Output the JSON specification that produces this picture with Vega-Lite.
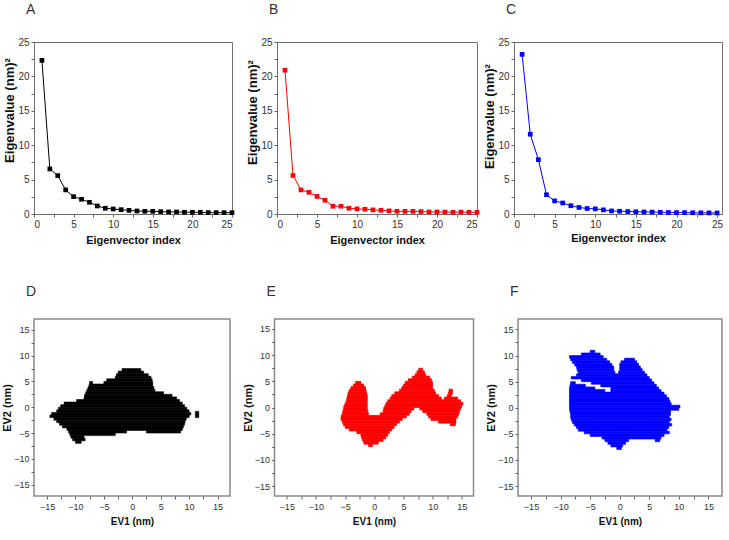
{
  "$schema": "https://vega.github.io/schema/vega-lite/v6.json",
  "padding": {"left": 0, "top": 2, "right": 2, "bottom": 2},
  "background": "white",
  "spacing": 38,
  "config": {
    "font": "Liberation Sans",
    "view": {"stroke": "#6e6e6e", "strokeWidth": 1},
    "axis": {
      "labelFont": "Liberation Sans", "labelFontSize": 10, "labelColor": "#333333",
      "titleFont": "Liberation Sans", "titleFontWeight": "bold", "titleColor": "#111111",
      "tickColor": "#666666", "tickSize": 3, "domain": false, "grid": false,
      "labelPadding": 2, "labelOverlap": false
    },
    "axisX": {"titleFontSize": 11, "titlePadding": 5},
    "axisY": {"titleFontSize": 13, "titlePadding": 1},
    "title": {"font": "Liberation Sans", "fontSize": 14, "fontWeight": "normal", "color": "#333333", "anchor": "start", "frame": "group", "dx": -8, "offset": 20}
  },
  "vconcat": [
    {
      "spacing": 11,
      "hconcat": [
        {
          "width": 198, "height": 172,
          "title": {"text": "A"},
          "data": {"values": [
            {"i":1,"v":22.33},{"i":2,"v":6.55},{"i":3,"v":5.58},{"i":4,"v":3.5},{"i":5,"v":2.52},
            {"i":6,"v":2.14},{"i":7,"v":1.7},{"i":8,"v":1.17},{"i":9,"v":0.83},{"i":10,"v":0.73},
            {"i":11,"v":0.63},{"i":12,"v":0.53},{"i":13,"v":0.44},{"i":14,"v":0.39},{"i":15,"v":0.39},
            {"i":16,"v":0.34},{"i":17,"v":0.3},{"i":18,"v":0.3},{"i":19,"v":0.25},{"i":20,"v":0.25},
            {"i":21,"v":0.24},{"i":22,"v":0.2},{"i":23,"v":0.2},{"i":24,"v":0.2},{"i":25,"v":0.19}
          ]},
          "encoding": {
            "x": {"field": "i", "type": "quantitative", "scale": {"domain": [0, 25], "nice": false},
                  "axis": {"title": "Eigenvector index", "values": [0,2.5,5,7.5,10,12.5,15,17.5,20,22.5,25], "labelExpr": "datum.value % 5 == 0 ? datum.label : ''"}},
            "y": {"field": "v", "type": "quantitative", "scale": {"domain": [0, 25], "nice": false},
                  "axis": {"title": "Eigenvalue (nm)²", "titleY": 68, "values": [0,2.5,5,7.5,10,12.5,15,17.5,20,22.5,25], "labelExpr": "datum.value % 5 == 0 ? datum.label : ''"}}
          },
          "layer": [
            {"mark": {"type": "line", "color": "#000000", "strokeWidth": 1}},
            {"mark": {"type": "square", "color": "#000000", "size": 22, "opacity": 1}}
          ]
        },
        {
          "bounds": "flush",
          "spacing": 37,
          "hconcat": [
            {
              "width": 200, "height": 172,
              "title": {"text": "B"},
              "data": {"values": [
                {"i":1,"v":20.9},{"i":2,"v":5.6},{"i":3,"v":3.5},{"i":4,"v":3.15},{"i":5,"v":2.56},
                {"i":6,"v":2.0},{"i":7,"v":1.13},{"i":8,"v":1.13},{"i":9,"v":0.84},{"i":10,"v":0.74},
                {"i":11,"v":0.69},{"i":12,"v":0.6},{"i":13,"v":0.54},{"i":14,"v":0.45},{"i":15,"v":0.4},
                {"i":16,"v":0.38},{"i":17,"v":0.38},{"i":18,"v":0.35},{"i":19,"v":0.3},{"i":20,"v":0.3},
                {"i":21,"v":0.28},{"i":22,"v":0.25},{"i":23,"v":0.28},{"i":24,"v":0.25},{"i":25,"v":0.25}
              ]},
              "encoding": {
                "x": {"field": "i", "type": "quantitative", "scale": {"domain": [0, 25], "nice": false},
                      "axis": {"title": "Eigenvector index", "titlePadding": 5, "values": [0,2.5,5,7.5,10,12.5,15,17.5,20,22.5,25], "labelExpr": "datum.value % 5 == 0 ? datum.label : ''"}},
                "y": {"field": "v", "type": "quantitative", "scale": {"domain": [0, 25], "nice": false},
                      "axis": {"title": "Eigenvalue (nm)²", "titleY": 70, "values": [0,2.5,5,7.5,10,12.5,15,17.5,20,22.5,25], "labelExpr": "datum.value % 5 == 0 ? datum.label : ''"}}
              },
              "layer": [
                {"mark": {"type": "line", "color": "#ff0000", "strokeWidth": 1}},
                {"mark": {"type": "square", "color": "#ff0000", "size": 22, "opacity": 1}}
              ]
            },
            {
              "width": 208, "height": 172,
              "title": {"text": "C"},
              "data": {"values": [
                {"i":1,"v":23.2},{"i":2,"v":11.6},{"i":3,"v":7.9},{"i":4,"v":2.8},{"i":5,"v":1.9},
                {"i":6,"v":1.6},{"i":7,"v":1.2},{"i":8,"v":0.95},{"i":9,"v":0.8},{"i":10,"v":0.75},
                {"i":11,"v":0.6},{"i":12,"v":0.45},{"i":13,"v":0.4},{"i":14,"v":0.35},{"i":15,"v":0.33},
                {"i":16,"v":0.3},{"i":17,"v":0.28},{"i":18,"v":0.25},{"i":19,"v":0.22},{"i":20,"v":0.2},
                {"i":21,"v":0.2},{"i":22,"v":0.18},{"i":23,"v":0.17},{"i":24,"v":0.16},{"i":25,"v":0.15}
              ]},
              "encoding": {
                "x": {"field": "i", "type": "quantitative", "scale": {"domain": [0, 25.6], "nice": false},
                      "axis": {"title": "Eigenvector index", "titlePadding": 3, "values": [0,2.5,5,7.5,10,12.5,15,17.5,20,22.5,25], "labelExpr": "datum.value % 5 == 0 ? datum.label : ''"}},
                "y": {"field": "v", "type": "quantitative", "scale": {"domain": [0, 25], "nice": false},
                      "axis": {"title": "Eigenvalue (nm)²", "titleY": 74, "values": [0,2.5,5,7.5,10,12.5,15,17.5,20,22.5,25], "labelExpr": "datum.value % 5 == 0 ? datum.label : ''"}}
              },
              "layer": [
                {"mark": {"type": "line", "color": "#0000ff", "strokeWidth": 1}},
                {"mark": {"type": "square", "color": "#0000ff", "size": 22, "opacity": 1}}
              ]
            }
          ]
        }
      ]
    },
    {
      "bounds": "flush",
      "spacing": 44.5,
      "hconcat": [
        {
          "width": 196, "height": 177,
          "title": {"text": "D", "offset": 20},
          "view": {"stroke": "#8a8a8a", "strokeWidth": 1.5},
          "data": {"values": [
            {"y1":7.0,"y2":7.5,"x1":-1.8,"x2":1.5},
            {"y1":6.5,"y2":7.0,"x1":-2.5,"x2":2.0},
            {"y1":6.0,"y2":6.5,"x1":-2.8,"x2":2.8},
            {"y1":5.5,"y2":6.0,"x1":-3.0,"x2":3.3},
            {"y1":5.0,"y2":5.5,"x1":-4.5,"x2":3.5},
            {"y1":4.5,"y2":5.0,"x1":-7.5,"x2":-7.0},
            {"y1":4.5,"y2":5.0,"x1":-5.0,"x2":3.6},
            {"y1":4.0,"y2":4.5,"x1":-7.6,"x2":3.6},
            {"y1":3.5,"y2":4.0,"x1":-7.8,"x2":3.8},
            {"y1":3.0,"y2":3.5,"x1":-8.0,"x2":4.0},
            {"y1":2.5,"y2":3.0,"x1":-8.2,"x2":5.5},
            {"y1":2.0,"y2":2.5,"x1":-8.4,"x2":7.0},
            {"y1":1.5,"y2":2.0,"x1":-8.5,"x2":7.8},
            {"y1":1.0,"y2":1.5,"x1":-9.8,"x2":8.3},
            {"y1":0.5,"y2":1.0,"x1":-12.0,"x2":8.8},
            {"y1":0.0,"y2":0.5,"x1":-12.6,"x2":9.2},
            {"y1":-0.5,"y2":0.0,"x1":-13.0,"x2":9.6},
            {"y1":-1.0,"y2":-0.5,"x1":-13.3,"x2":10.0},
            {"y1":-2.0,"y2":-0.8,"x1":11.1,"x2":11.7},
            {"y1":-1.5,"y2":-1.0,"x1":-14.2,"x2":10.3},
            {"y1":-2.0,"y2":-1.5,"x1":-14.5,"x2":10.0},
            {"y1":-2.5,"y2":-2.0,"x1":-13.8,"x2":9.5},
            {"y1":-3.0,"y2":-2.5,"x1":-13.3,"x2":9.3},
            {"y1":-3.5,"y2":-3.0,"x1":-12.8,"x2":9.2},
            {"y1":-4.0,"y2":-3.5,"x1":-12.3,"x2":9.0},
            {"y1":-4.5,"y2":-4.0,"x1":-11.5,"x2":8.8},
            {"y1":-5.0,"y2":-4.5,"x1":-11.2,"x2":-1.0},
            {"y1":-5.0,"y2":-4.5,"x1":2.5,"x2":8.5},
            {"y1":-5.5,"y2":-5.0,"x1":-11.0,"x2":-3.0},
            {"y1":-6.0,"y2":-5.5,"x1":-10.8,"x2":-8.5},
            {"y1":-6.5,"y2":-6.0,"x1":-10.5,"x2":-8.3},
            {"y1":-7.0,"y2":-6.5,"x1":-10.0,"x2":-9.0}
          ]},
          "mark": {"type": "rect", "color": "#000000", "stroke": "#000000", "strokeWidth": 0.6},
          "encoding": {
            "x": {"field": "x1", "type": "quantitative", "scale": {"domain": [-17.3, 17.2], "nice": false, "zero": false},
                  "axis": {"title": "EV1 (nm)", "titleFontSize": 10, "labelFontSize": 9, "labelPadding": 3, "titlePadding": 5, "values": [-15,-12.5,-10,-7.5,-5,-2.5,0,2.5,5,7.5,10,12.5,15], "labelExpr": "datum.value % 5 == 0 ? datum.label : ''"}},
            "x2": {"field": "x2"},
            "y": {"field": "y1", "type": "quantitative", "scale": {"domain": [-17.2, 17.1], "nice": false, "zero": false},
                  "axis": {"title": "EV2 (nm)", "titleFontSize": 11, "labelFontSize": 9, "labelPadding": 2, "titlePadding": 1, "values": [-15,-12.5,-10,-7.5,-5,-2.5,0,2.5,5,7.5,10,12.5,15], "labelExpr": "datum.value % 5 == 0 ? datum.label : ''"}},
            "y2": {"field": "y2"}
          }
        },
        {
          "width": 199, "height": 177,
          "title": {"text": "E", "offset": 20},
          "view": {"stroke": "#8a8a8a", "strokeWidth": 1.5},
          "data": {"values": [
            {"y1":7.0,"y2":7.5,"x1":7.6,"x2":8.3},
            {"y1":6.5,"y2":7.0,"x1":7.3,"x2":8.6},
            {"y1":6.0,"y2":6.5,"x1":7.0,"x2":8.8},
            {"y1":5.5,"y2":6.0,"x1":6.5,"x2":9.5},
            {"y1":5.0,"y2":5.5,"x1":5.8,"x2":9.8},
            {"y1":4.5,"y2":5.0,"x1":5.3,"x2":10.0},
            {"y1":4.5,"y2":5.0,"x1":-3.2,"x2":-2.3},
            {"y1":4.0,"y2":4.5,"x1":-3.6,"x2":-1.8},
            {"y1":4.0,"y2":4.5,"x1":5.0,"x2":10.0},
            {"y1":3.5,"y2":4.0,"x1":-4.0,"x2":-1.5},
            {"y1":3.5,"y2":4.0,"x1":4.7,"x2":10.0},
            {"y1":3.0,"y2":3.5,"x1":-4.3,"x2":-1.4},
            {"y1":3.0,"y2":3.5,"x1":4.3,"x2":10.3},
            {"y1":3.0,"y2":3.5,"x1":12.8,"x2":13.4},
            {"y1":2.5,"y2":3.0,"x1":-4.5,"x2":-1.3},
            {"y1":2.5,"y2":3.0,"x1":3.5,"x2":10.5},
            {"y1":2.5,"y2":3.0,"x1":12.7,"x2":13.4},
            {"y1":2.0,"y2":2.5,"x1":-4.6,"x2":-1.2},
            {"y1":2.0,"y2":2.5,"x1":3.0,"x2":11.0},
            {"y1":2.0,"y2":2.5,"x1":12.5,"x2":13.2},
            {"y1":1.5,"y2":2.0,"x1":-4.7,"x2":-1.2},
            {"y1":1.5,"y2":2.0,"x1":2.7,"x2":11.5},
            {"y1":1.5,"y2":2.0,"x1":12.0,"x2":14.3},
            {"y1":1.0,"y2":1.5,"x1":-4.8,"x2":-1.2},
            {"y1":1.0,"y2":1.5,"x1":2.3,"x2":14.8},
            {"y1":0.5,"y2":1.0,"x1":-5.0,"x2":-1.2},
            {"y1":0.5,"y2":1.0,"x1":2.0,"x2":15.2},
            {"y1":0.0,"y2":0.5,"x1":-5.2,"x2":-1.2},
            {"y1":0.0,"y2":0.5,"x1":1.8,"x2":15.0},
            {"y1":-0.5,"y2":0.0,"x1":-5.3,"x2":-1.2},
            {"y1":-0.5,"y2":0.0,"x1":1.6,"x2":6.8},
            {"y1":-0.5,"y2":0.0,"x1":7.8,"x2":14.8},
            {"y1":-1.0,"y2":-0.5,"x1":-5.4,"x2":-1.1},
            {"y1":-1.0,"y2":-0.5,"x1":1.5,"x2":6.3},
            {"y1":-1.0,"y2":-0.5,"x1":8.3,"x2":14.6},
            {"y1":-1.5,"y2":-1.0,"x1":-5.5,"x2":-1.0},
            {"y1":-1.5,"y2":-1.0,"x1":1.0,"x2":6.0},
            {"y1":-1.5,"y2":-1.0,"x1":9.0,"x2":14.5},
            {"y1":-2.0,"y2":-1.5,"x1":-5.7,"x2":5.5},
            {"y1":-2.0,"y2":-1.5,"x1":9.3,"x2":14.3},
            {"y1":-2.5,"y2":-2.0,"x1":-5.7,"x2":4.8},
            {"y1":-2.5,"y2":-2.0,"x1":9.7,"x2":14.0},
            {"y1":-3.0,"y2":-2.5,"x1":-5.5,"x2":4.3},
            {"y1":-3.0,"y2":-2.5,"x1":11.0,"x2":14.0},
            {"y1":-3.5,"y2":-3.0,"x1":-5.3,"x2":3.8},
            {"y1":-3.5,"y2":-3.0,"x1":13.0,"x2":13.9},
            {"y1":-4.0,"y2":-3.5,"x1":-5.0,"x2":3.4},
            {"y1":-4.5,"y2":-4.0,"x1":-4.3,"x2":3.0},
            {"y1":-5.0,"y2":-4.5,"x1":-3.0,"x2":2.6},
            {"y1":-5.5,"y2":-5.0,"x1":-2.3,"x2":2.3},
            {"y1":-6.0,"y2":-5.5,"x1":-2.2,"x2":2.0},
            {"y1":-6.5,"y2":-6.0,"x1":-2.0,"x2":1.5},
            {"y1":-7.0,"y2":-6.5,"x1":-1.8,"x2":0.7},
            {"y1":-7.5,"y2":-7.0,"x1":-1.0,"x2":-0.3}
          ]},
          "mark": {"type": "rect", "color": "#ff0000", "stroke": "#ff0000", "strokeWidth": 0.6},
          "encoding": {
            "x": {"field": "x1", "type": "quantitative", "scale": {"domain": [-17.1, 17], "nice": false, "zero": false},
                  "axis": {"title": "EV1 (nm)", "titleFontSize": 10, "labelFontSize": 9, "labelPadding": 3, "titlePadding": 5, "values": [-15,-12.5,-10,-7.5,-5,-2.5,0,2.5,5,7.5,10,12.5,15], "labelExpr": "datum.value % 5 == 0 ? datum.label : ''"}},
            "x2": {"field": "x2"},
            "y": {"field": "y1", "type": "quantitative", "scale": {"domain": [-16.9, 16.9], "nice": false, "zero": false},
                  "axis": {"title": "EV2 (nm)", "titleFontSize": 11, "labelFontSize": 9, "labelPadding": 2, "titlePadding": 1, "values": [-15,-12.5,-10,-7.5,-5,-2.5,0,2.5,5,7.5,10,12.5,15], "labelExpr": "datum.value % 5 == 0 ? datum.label : ''"}},
            "y2": {"field": "y2"}
          }
        },
        {
          "width": 204, "height": 177,
          "title": {"text": "F", "offset": 20},
          "view": {"stroke": "#8a8a8a", "strokeWidth": 1.5},
          "data": {"values": [
            {"y1":10.5,"y2":11.0,"x1":-5.0,"x2":-4.2},
            {"y1":10.0,"y2":10.5,"x1":-6.5,"x2":-3.3},
            {"y1":9.5,"y2":10.0,"x1":-8.5,"x2":-2.8},
            {"y1":9.0,"y2":9.5,"x1":-8.3,"x2":-2.2},
            {"y1":9.0,"y2":9.5,"x1":0.8,"x2":2.5},
            {"y1":8.5,"y2":9.0,"x1":-8.0,"x2":-1.7},
            {"y1":8.5,"y2":9.0,"x1":0.2,"x2":2.9},
            {"y1":8.0,"y2":8.5,"x1":-7.6,"x2":-1.3},
            {"y1":8.0,"y2":8.5,"x1":0.0,"x2":3.2},
            {"y1":7.5,"y2":8.0,"x1":-7.3,"x2":-1.0},
            {"y1":7.5,"y2":8.0,"x1":0.0,"x2":3.5},
            {"y1":7.0,"y2":7.5,"x1":-7.2,"x2":-1.0},
            {"y1":7.0,"y2":7.5,"x1":0.0,"x2":3.8},
            {"y1":6.5,"y2":7.0,"x1":-7.0,"x2":-0.8},
            {"y1":6.5,"y2":7.0,"x1":-0.2,"x2":4.2},
            {"y1":6.0,"y2":6.5,"x1":-7.3,"x2":4.6},
            {"y1":5.5,"y2":6.0,"x1":-8.2,"x2":5.0},
            {"y1":5.0,"y2":5.5,"x1":-6.5,"x2":5.4},
            {"y1":4.5,"y2":5.0,"x1":-8.3,"x2":-7.5},
            {"y1":4.5,"y2":5.0,"x1":-4.8,"x2":5.8},
            {"y1":4.0,"y2":4.5,"x1":-8.4,"x2":-5.8},
            {"y1":4.0,"y2":4.5,"x1":-3.2,"x2":6.2},
            {"y1":3.5,"y2":4.0,"x1":-8.5,"x2":-4.2},
            {"y1":3.5,"y2":4.0,"x1":-1.5,"x2":6.6},
            {"y1":3.0,"y2":3.5,"x1":-8.5,"x2":-2.5},
            {"y1":3.0,"y2":3.5,"x1":-1.5,"x2":7.0},
            {"y1":2.5,"y2":3.0,"x1":-8.5,"x2":7.5},
            {"y1":2.0,"y2":2.5,"x1":-8.5,"x2":7.9},
            {"y1":1.5,"y2":2.0,"x1":-8.5,"x2":8.3},
            {"y1":1.0,"y2":1.5,"x1":-8.5,"x2":8.5},
            {"y1":0.5,"y2":1.0,"x1":-8.5,"x2":8.7},
            {"y1":0.0,"y2":0.5,"x1":-8.5,"x2":10.2},
            {"y1":-0.5,"y2":0.0,"x1":-8.5,"x2":10.0},
            {"y1":-1.0,"y2":-0.5,"x1":-8.4,"x2":8.6},
            {"y1":-1.5,"y2":-1.0,"x1":-8.3,"x2":8.6},
            {"y1":-2.0,"y2":-1.5,"x1":-8.3,"x2":8.4},
            {"y1":-2.5,"y2":-2.0,"x1":-8.2,"x2":8.7},
            {"y1":-3.0,"y2":-2.5,"x1":-8.0,"x2":8.4},
            {"y1":-3.5,"y2":-3.0,"x1":-7.7,"x2":8.8},
            {"y1":-4.0,"y2":-3.5,"x1":-7.3,"x2":8.3},
            {"y1":-4.5,"y2":-4.0,"x1":-7.0,"x2":8.0},
            {"y1":-5.0,"y2":-4.5,"x1":-6.0,"x2":8.4},
            {"y1":-5.5,"y2":-5.0,"x1":-5.0,"x2":7.5},
            {"y1":-6.0,"y2":-5.5,"x1":-3.0,"x2":7.0},
            {"y1":-6.5,"y2":-6.0,"x1":-2.5,"x2":1.5},
            {"y1":-6.5,"y2":-6.0,"x1":6.0,"x2":6.8},
            {"y1":-7.0,"y2":-6.5,"x1":-2.0,"x2":1.0},
            {"y1":-7.5,"y2":-7.0,"x1":-1.5,"x2":0.5},
            {"y1":-8.0,"y2":-7.5,"x1":-0.5,"x2":0.3}
          ]},
          "mark": {"type": "rect", "color": "#0000ff", "stroke": "#0000ff", "strokeWidth": 0.6},
          "encoding": {
            "x": {"field": "x1", "type": "quantitative", "scale": {"domain": [-17.2, 17.3], "nice": false, "zero": false},
                  "axis": {"title": "EV1 (nm)", "titleFontSize": 10, "labelFontSize": 9, "labelPadding": 3, "titlePadding": 5, "values": [-15,-12.5,-10,-7.5,-5,-2.5,0,2.5,5,7.5,10,12.5,15], "labelExpr": "datum.value % 5 == 0 ? datum.label : ''"}},
            "x2": {"field": "x2"},
            "y": {"field": "y1", "type": "quantitative", "scale": {"domain": [-16.9, 17], "nice": false, "zero": false},
                  "axis": {"title": "EV2 (nm)", "titleFontSize": 11, "labelFontSize": 9, "labelPadding": 2, "titlePadding": 1, "values": [-15,-12.5,-10,-7.5,-5,-2.5,0,2.5,5,7.5,10,12.5,15], "labelExpr": "datum.value % 5 == 0 ? datum.label : ''"}},
            "y2": {"field": "y2"}
          }
        }
      ]
    }
  ]
}
